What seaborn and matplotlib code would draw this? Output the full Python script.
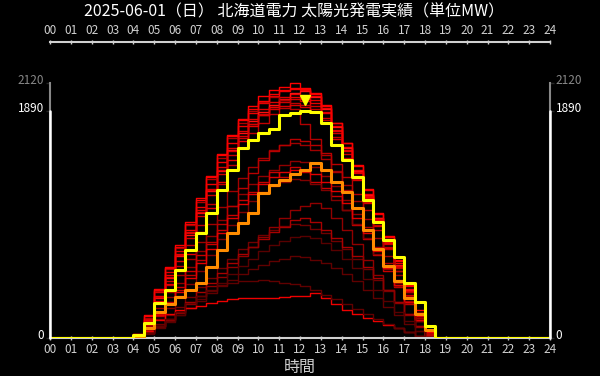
import numpy as np
import pandas as pd
import seaborn as sns
import matplotlib.pyplot as plt
from matplotlib.transforms import ScaledTranslation

# half-hour grid, 00:00 .. 24:00
hours = np.arange(0, 24.5, 0.5)
hour_labels = ["%02d" % h for h in range(25)]
title = "2025-06-01（日） 北海道電力 太陽光発電実績（単位MW）"
y_max_all = 2120
y_max_today = 1890

# values from 04:00 to 19:00 every 30 min; zero outside
night_am = [0] * 8
night_pm = [0] * 10

today = [25, 125, 290, 400, 565, 730, 875, 1040, 1230, 1395, 1580, 1645, 1705, 1740, 1855, 1870,
         1890, 1880, 1790, 1605, 1480, 1340, 1150, 960, 815, 675, 460, 300, 100, 0, 0]
average = [10, 80, 215, 280, 340, 400, 455, 590, 730, 870, 955, 1040, 1205, 1270, 1315, 1360,
           1395, 1455, 1400, 1300, 1210, 1080, 900, 740, 600, 470, 330, 200, 70, 0, 0]

past_days = {
    "s1": [30, 180, 400, 580, 760, 950, 1150, 1340, 1520, 1690, 1820, 1930, 2010, 2060, 2090, 2120,
           2080, 2040, 1940, 1790, 1620, 1440, 1240, 1040, 850, 650, 440, 230, 60, 0, 0],
    "s2": [20, 150, 350, 520, 700, 900, 1090, 1280, 1460, 1620, 1760, 1870, 1950, 2010, 2050, 2070,
           2060, 2010, 1910, 1760, 1590, 1400, 1200, 1000, 820, 620, 410, 210, 50, 0, 0],
    "s3": [25, 160, 380, 550, 720, 880, 1060, 1240, 1420, 1580, 1720, 1820, 1900, 1960, 2000, 2030,
           2010, 1980, 1880, 1730, 1560, 1380, 1180, 990, 800, 600, 400, 200, 40, 0, 0],
    "s4": [15, 120, 300, 470, 640, 830, 1010, 1190, 1360, 1520, 1660, 1780, 1860, 1920, 1960, 1990,
           1970, 1930, 1830, 1700, 1530, 1350, 1160, 970, 780, 590, 390, 190, 40, 0, 0],
    "s5": [20, 140, 330, 500, 680, 860, 1040, 1220, 1390, 1560, 1700, 1800, 1880, 1940, 1990, 2040,
           2050, 2000, 1900, 1750, 1580, 1390, 1190, 1000, 810, 610, 400, 190, 30, 0, 0],
    "s6": [15, 110, 280, 440, 600, 770, 940, 1110, 1280, 1440, 1580, 1700, 1790, 1860, 1910, 1950,
           1940, 1900, 1810, 1670, 1500, 1320, 1130, 940, 760, 580, 380, 180, 30, 0, 0],
    "s7": [20, 130, 310, 450, 560, 700, 880, 1080, 1300, 1480, 1640, 1760, 1850, 1920, 1980, 2000,
           1990, 1950, 1870, 1720, 1550, 1370, 1170, 980, 790, 600, 390, 180, 30, 0, 0],
    "s8": [25, 170, 390, 570, 750, 940, 1130, 1320, 1500, 1660, 1790, 1890, 1960, 2000, 1980, 1900,
           1780, 1650, 1520, 1380, 1230, 1080, 920, 760, 620, 480, 330, 170, 40, 0, 0],
    "s9": [20, 140, 340, 510, 690, 870, 1050, 1230, 1400, 1550, 1680, 1780, 1850, 1900, 1930, 1940,
           1920, 1880, 1790, 1650, 1490, 1310, 1120, 930, 750, 560, 360, 170, 30, 0, 0],
    "s10": [30, 190, 410, 590, 770, 960, 1160, 1350, 1530, 1680, 1810, 1900, 1970, 2030, 2060, 2080,
            2070, 2030, 1930, 1790, 1620, 1430, 1230, 1030, 840, 640, 430, 210, 50, 0, 0],
    "m1": [15, 100, 250, 380, 520, 660, 800, 950, 1090, 1220, 1330, 1420, 1500, 1560, 1600, 1620,
           1600, 1560, 1490, 1390, 1270, 1140, 990, 830, 680, 520, 350, 170, 30, 0, 0],
    "m2": [10, 90, 220, 340, 460, 590, 720, 850, 980, 1100, 1200, 1280, 1350, 1400, 1440, 1470,
           1460, 1420, 1350, 1260, 1150, 1030, 890, 740, 600, 460, 310, 150, 25, 0, 0],
    "m3": [10, 80, 200, 300, 420, 560, 690, 780, 900, 1020, 1150, 1210, 1300, 1380, 1340, 1420,
           1380, 1300, 1250, 1180, 1060, 940, 820, 690, 560, 420, 280, 140, 20, 0, 0],
    "m4": [10, 70, 180, 290, 400, 520, 650, 800, 950, 1100, 1250, 1370, 1480, 1550, 1600, 1650,
           1640, 1600, 1540, 1450, 1340, 1200, 1060, 900, 740, 560, 380, 190, 35, 0, 0],
    "m5": [5, 60, 160, 250, 350, 450, 560, 690, 820, 940, 1050, 1140, 1210, 1260, 1300, 1320,
           1310, 1280, 1230, 1150, 1060, 950, 830, 700, 570, 430, 290, 140, 20, 0, 0],
    "m6": [10, 80, 190, 280, 380, 500, 620, 740, 870, 1000, 1110, 1200, 1280, 1340, 1380, 1400,
           1390, 1360, 1300, 1220, 1120, 1000, 870, 720, 580, 440, 300, 150, 25, 0, 0],
    "c1": [5, 50, 120, 190, 260, 340, 420, 500, 580, 660, 740, 800, 860, 900, 930, 950,
           940, 910, 870, 810, 740, 660, 570, 480, 390, 300, 200, 100, 15, 0, 0],
    "c2": [5, 40, 100, 160, 220, 300, 380, 460, 540, 620, 700, 760, 820, 880, 920, 980,
           1000, 960, 900, 830, 760, 680, 590, 500, 400, 300, 200, 100, 15, 0, 0],
    "c3": [5, 40, 90, 140, 190, 250, 310, 370, 430, 480, 530, 570, 610, 640, 660, 680,
           670, 650, 620, 580, 530, 470, 400, 330, 260, 190, 120, 60, 10, 0, 0],
    "c4": [5, 40, 100, 150, 210, 280, 350, 430, 510, 590, 680, 760, 840, 920, 1000, 1060,
           1100, 1120, 1080, 1000, 900, 780, 650, 520, 400, 290, 190, 90, 10, 0, 0],
    "d1": [5, 30, 80, 130, 190, 250, 320, 390, 460, 530, 600, 660, 720, 770, 810, 840,
           850, 830, 790, 730, 660, 580, 490, 400, 310, 220, 140, 60, 10, 0, 0],
    "v1": [5, 60, 150, 200, 230, 250, 270, 290, 310, 320, 330, 335, 330, 335, 340, 345,
           350, 370, 330, 280, 230, 200, 170, 140, 110, 80, 50, 20, 5, 0, 0],
    "v2": [5, 40, 100, 160, 220, 290, 350, 400, 440, 460, 470, 475, 480, 470, 460, 450,
           430, 400, 360, 320, 280, 240, 200, 160, 120, 80, 50, 20, 5, 0, 0],
}

# line shades for the past days (older = darker)
shades = {
    "s1": "#ff0000", "s2": "#f00000", "s3": "#e00000", "s4": "#d00000", "s5": "#ff1010",
    "s6": "#c00000", "s7": "#e80000", "s8": "#b00000", "s9": "#d80000", "s10": "#f80000",
    "m1": "#a00000", "m2": "#900000", "m3": "#c80000", "m4": "#b80000", "m5": "#800000",
    "m6": "#e00000", "c1": "#700000", "c2": "#a80000", "c3": "#600000", "c4": "#900000",
    "d1": "#580000", "v1": "#ee0000", "v2": "#600000",
}

rows = []
for day, vals in past_days.items():
    full = night_am + vals + night_pm
    for h, v in zip(hours, full):
        rows.append({"hour": h, "mw": v, "day": day})
df = pd.DataFrame(rows)

sns.set_theme(style="dark", rc={"figure.facecolor": "black", "axes.facecolor": "black"})
plt.rcParams["font.family"] = ["Noto Sans CJK JP", "DejaVu Sans"]

fig = plt.figure(figsize=(6, 3.76), dpi=100)
ax = fig.add_axes([50 / 600, 1 - 338 / 376, 500 / 600, 296 / 376])
ax.set_facecolor("black")

sns.lineplot(data=df, x="hour", y="mw", hue="day", palette=shades, estimator=None,
             drawstyle="steps-post", linewidth=1.0, legend=False, ax=ax, zorder=2)
today_full = night_am + today + night_pm
avg_full = night_am + average + night_pm
sns.lineplot(x=hours, y=avg_full, color="#ff8c00", linewidth=2.2, drawstyle="steps-post",
             ax=ax, zorder=3)
sns.lineplot(x=hours, y=today_full, color="#ffff00", linewidth=2.2, drawstyle="steps-post",
             ax=ax, zorder=4)

# peak marker above today's maximum
ipk = int(np.argmax(today_full))
mark = ax.transData + ScaledTranslation(0, 11 / 100, fig.dpi_scale_trans)
ax.plot([hours[ipk] + 0.25], [today_full[ipk]], marker="v", color="#ffff00", ms=7,
        transform=mark, zorder=5, clip_on=False)

ax.set_xlim(0, 24)
ax.set_ylim(0, 2460)
ax.set_xticks(range(25))
ax.set_xticklabels(hour_labels)
ax.set_yticks([0, y_max_today, y_max_all])
ax.set_yticklabels(["0", str(y_max_today), str(y_max_all)])
ax.grid(False)

axis_col = "#d0d0d0"
ax.tick_params(axis="x", which="both", top=True, bottom=True, labeltop=True, labelbottom=True,
               colors=axis_col, labelsize=8.5, length=3, width=1, direction="inout", pad=2)
ax.tick_params(axis="y", left=True, right=True, labelleft=True, labelright=True,
               labelsize=8.5, length=3, width=1, direction="out", pad=1)
lift = ScaledTranslation(0, 4 / 100, fig.dpi_scale_trans)
for tick, val in zip(ax.yaxis.get_major_ticks(), [0, y_max_today, y_max_all]):
    c = "#888888" if val == y_max_all else "white"
    for lab in (tick.label1, tick.label2):
        lab.set_color(c)
        lab.set_transform(lab.get_transform() + lift)
    tick.tick1line.set_color(c)
    tick.tick2line.set_color(c)

for side in ["top", "bottom"]:
    ax.spines[side].set_color(axis_col)
    ax.spines[side].set_linewidth(1.5)
for side in ["left", "right"]:
    ax.spines[side].set_color("#888888")
    ax.spines[side].set_linewidth(1.5)
    ax.spines[side].set_bounds(0, y_max_all)
frac = y_max_today / ax.get_ylim()[1]
for xe in [0, 24]:
    ax.axvline(xe, ymin=0, ymax=frac, color="white", linewidth=1.8, clip_on=False, zorder=6)

ax.set_xlabel("時間", color=axis_col, fontsize=11.5)
ax.xaxis.set_label_coords(0.5, -0.098)
ax.xaxis.label.set_va("center")
ax.set_ylabel("")

fig.text(0.49, 1 - 12 / 376, title, color="white", fontsize=11.5, ha="center", va="center")

fig.savefig("out.png", dpi=100, facecolor="black")
